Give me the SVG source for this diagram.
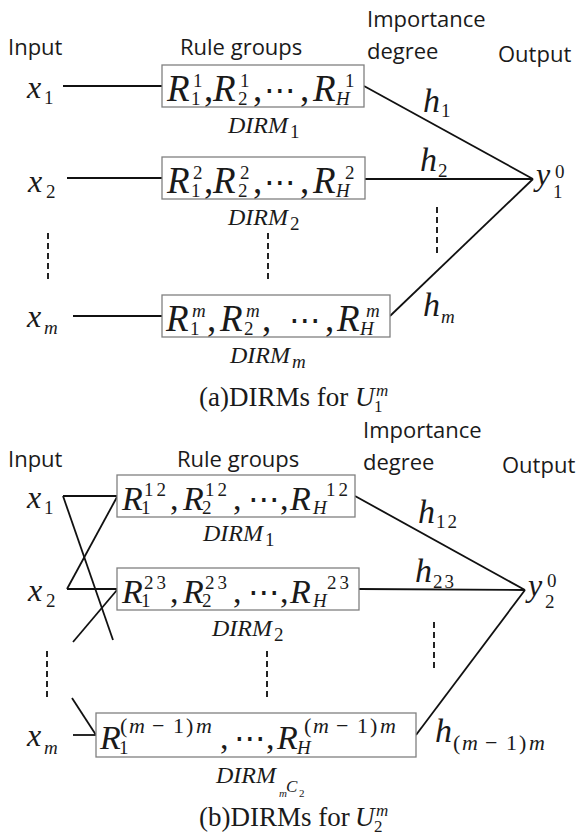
<svg xmlns="http://www.w3.org/2000/svg" width="585" height="840" viewBox="0 0 585 840">
<style>
.lbl{font-family:"Open Sans","Liberation Sans",sans-serif;font-size:22px;fill:#1a1a1a}
.m{font-family:"Liberation Serif","Times New Roman",serif;font-style:italic;fill:#1a1a1a}
.up{font-style:normal}
.R{font-size:37px}
.Rb{font-size:34px}
.s{font-size:19px}
.s2{font-size:22px}
.x{font-size:32px}
.h{font-size:34px}
.d{font-size:24px}
.dots{font-family:"DejaVu Sans",sans-serif;font-style:normal;font-size:32px}
.cap{font-family:"Liberation Serif","Times New Roman",serif;font-size:27px;fill:#1a1a1a}
.box{fill:#fff;stroke:#808080;stroke-width:1.3}
.ln{stroke:#111;stroke-width:1.8;fill:none}
.dash{stroke:#222;stroke-width:2;stroke-dasharray:6 4}
</style>

<!-- ===== Part (a) ===== -->
<g id="headers-a">
<text class="lbl" x="8" y="55">Input</text>
<text class="lbl" x="180" y="55">Rule groups</text>
<text class="lbl" x="367" y="27">Importance</text>
<text class="lbl" x="367" y="59">degree</text>
<text class="lbl" x="498" y="62">Output</text>
</g>

<g id="connectors-a">
<line class="ln" x1="63" y1="86" x2="162" y2="86"/>
<line class="ln" x1="67" y1="178" x2="162" y2="178"/>
<line class="ln" x1="73" y1="316" x2="162" y2="316"/>
<line class="ln" x1="364" y1="86" x2="533" y2="179"/>
<line class="ln" x1="365" y1="179" x2="533" y2="179"/>
<line class="ln" x1="390" y1="316" x2="533" y2="179"/>
<line class="dash" x1="48" y1="233" x2="48" y2="282"/>
<line class="dash" x1="268" y1="233" x2="268" y2="282"/>
<line class="dash" x1="437" y1="207" x2="437" y2="255"/>
</g>

<g id="x1a"><text class="m"><tspan class="x" x="27" y="98">x</tspan><tspan class="s up" x="44" y="104">1</tspan></text></g>
<g id="x2a"><text class="m"><tspan class="x" x="28" y="192">x</tspan><tspan class="s up" x="46" y="198">2</tspan></text></g>
<g id="xma"><text class="m"><tspan class="x" x="27" y="327">x</tspan><tspan class="s" x="44" y="334">m</tspan></text></g>

<g id="dirm1a">
<rect class="box" x="162" y="65" width="202" height="42"/>
<text class="m">
<tspan class="R" x="167" y="101">R</tspan><tspan class="s up" x="193" y="87">1</tspan><tspan class="s up" x="191" y="105">1</tspan>
<tspan class="R up" x="204" y="101">,</tspan>
<tspan class="R" x="213" y="101">R</tspan><tspan class="s up" x="240" y="87">1</tspan><tspan class="s up" x="238" y="105">2</tspan>
<tspan class="R up" x="253" y="101">,</tspan>
<tspan class="dots" x="264" y="101">⋯</tspan>
<tspan class="R up" x="300" y="101">,</tspan>
<tspan class="R" x="313" y="101">R</tspan><tspan class="s up" x="345" y="87">1</tspan><tspan class="s" x="336" y="105">H</tspan>
</text>
<text class="m"><tspan class="d" x="228" y="133">DIRM</tspan><tspan class="s up" x="290" y="138">1</tspan></text>
</g>

<g id="dirm2a">
<rect class="box" x="162" y="157" width="203" height="42"/>
<text class="m">
<tspan class="R" x="167" y="193">R</tspan><tspan class="s up" x="193" y="179">2</tspan><tspan class="s up" x="191" y="197">1</tspan>
<tspan class="R up" x="204" y="193">,</tspan>
<tspan class="R" x="213" y="193">R</tspan><tspan class="s up" x="240" y="179">2</tspan><tspan class="s up" x="238" y="197">2</tspan>
<tspan class="R up" x="253" y="193">,</tspan>
<tspan class="dots" x="264" y="193">⋯</tspan>
<tspan class="R up" x="300" y="193">,</tspan>
<tspan class="R" x="313" y="193">R</tspan><tspan class="s up" x="345" y="179">2</tspan><tspan class="s" x="336" y="197">H</tspan>
</text>
<text class="m"><tspan class="d" x="228" y="225">DIRM</tspan><tspan class="s up" x="290" y="230">2</tspan></text>
</g>

<g id="dirmma">
<rect class="box" x="162" y="295" width="228" height="42"/>
<text class="m">
<tspan class="R" x="166" y="331">R</tspan><tspan class="s" x="192" y="317">m</tspan><tspan class="s up" x="190" y="335">1</tspan>
<tspan class="R up" x="207" y="331">,</tspan>
<tspan class="R" x="220" y="331">R</tspan><tspan class="s" x="246" y="317">m</tspan><tspan class="s up" x="244" y="335">2</tspan>
<tspan class="R up" x="262" y="331">,</tspan>
<tspan class="dots" x="289" y="331">⋯</tspan>
<tspan class="R up" x="325" y="331">,</tspan>
<tspan class="R" x="337" y="331">R</tspan><tspan class="s" x="366" y="317">m</tspan><tspan class="s" x="360" y="335">H</tspan>
</text>
<text class="m"><tspan class="d" x="230" y="363">DIRM</tspan><tspan class="s" x="292" y="368">m</tspan></text>
</g>

<g id="h-a">
<text class="m"><tspan class="h" x="423" y="112">h</tspan><tspan class="s up" x="441" y="117">1</tspan></text>
<text class="m"><tspan class="h" x="420" y="171">h</tspan><tspan class="s up" x="438" y="177">2</tspan></text>
<text class="m"><tspan class="h" x="423" y="316">h</tspan><tspan class="s" x="441" y="323">m</tspan></text>
</g>

<g id="y-a"><text class="m"><tspan class="x" x="536" y="185">y</tspan><tspan class="s up" x="555" y="178">0</tspan><tspan class="s up" x="553" y="198">1</tspan></text></g>

<g id="cap-a"><text class="cap"><tspan x="199" y="406">(a)DIRMs for </tspan><tspan font-style="italic" x="355" y="406">U</tspan><tspan font-size="17" font-style="italic" x="376" y="396">m</tspan><tspan font-size="17" x="374" y="412">1</tspan></text></g>

<!-- ===== Part (b) ===== -->
<g id="headers-b">
<text class="lbl" x="8" y="467">Input</text>
<text class="lbl" x="177" y="467">Rule groups</text>
<text class="lbl" x="363" y="438">Importance</text>
<text class="lbl" x="363" y="470">degree</text>
<text class="lbl" x="502" y="473">Output</text>
</g>

<g id="connectors-b">
<line class="ln" x1="63" y1="496" x2="117" y2="496"/>
<line class="ln" x1="63" y1="496" x2="113" y2="640"/>
<line class="ln" x1="117" y1="497" x2="67" y2="589"/>
<line class="ln" x1="67" y1="589" x2="117" y2="589"/>
<line class="ln" x1="117" y1="590" x2="73" y2="642"/>
<line class="ln" x1="72" y1="698" x2="96" y2="735"/>
<line class="ln" x1="73" y1="735" x2="96" y2="735"/>
<line class="ln" x1="355" y1="496" x2="525" y2="590"/>
<line class="ln" x1="359" y1="589" x2="525" y2="590"/>
<line class="ln" x1="416" y1="735" x2="525" y2="590"/>
<line class="dash" x1="47" y1="651" x2="47" y2="700"/>
<line class="dash" x1="267" y1="651" x2="267" y2="700"/>
<line class="dash" x1="434" y1="622" x2="434" y2="671"/>
</g>

<g id="x1b"><text class="m"><tspan class="x" x="27" y="508">x</tspan><tspan class="s up" x="44" y="514">1</tspan></text></g>
<g id="x2b"><text class="m"><tspan class="x" x="28" y="601">x</tspan><tspan class="s up" x="46" y="607">2</tspan></text></g>
<g id="xmb"><text class="m"><tspan class="x" x="27" y="746">x</tspan><tspan class="s" x="44" y="754">m</tspan></text></g>

<g id="dirm1b">
<rect class="box" x="117" y="475" width="238" height="42"/>
<text class="m">
<tspan class="Rb" x="122" y="510">R</tspan><tspan class="s up" x="144" y="496" letter-spacing="3">12</tspan><tspan class="s up" x="141" y="514">1</tspan>
<tspan class="Rb up" x="170" y="510">,</tspan>
<tspan class="Rb" x="183" y="510">R</tspan><tspan class="s up" x="205" y="496" letter-spacing="3">12</tspan><tspan class="s up" x="202" y="514">2</tspan>
<tspan class="Rb up" x="233" y="510">,</tspan>
<tspan class="dots" x="248" y="510">⋯</tspan>
<tspan class="Rb up" x="280" y="510">,</tspan>
<tspan class="Rb" x="290" y="510">R</tspan><tspan class="s up" x="326" y="496" letter-spacing="3">12</tspan><tspan class="s" x="313" y="514">H</tspan>
</text>
<text class="m"><tspan class="d" x="203" y="541">DIRM</tspan><tspan class="s up" x="265" y="546">1</tspan></text>
</g>

<g id="dirm2b">
<rect class="box" x="117" y="568" width="242" height="42"/>
<text class="m">
<tspan class="Rb" x="122" y="603">R</tspan><tspan class="s up" x="144" y="589" letter-spacing="3">23</tspan><tspan class="s up" x="141" y="607">1</tspan>
<tspan class="Rb up" x="170" y="603">,</tspan>
<tspan class="Rb" x="183" y="603">R</tspan><tspan class="s up" x="205" y="589" letter-spacing="3">23</tspan><tspan class="s up" x="202" y="607">2</tspan>
<tspan class="Rb up" x="233" y="603">,</tspan>
<tspan class="dots" x="248" y="603">⋯</tspan>
<tspan class="Rb up" x="280" y="603">,</tspan>
<tspan class="Rb" x="290" y="603">R</tspan><tspan class="s up" x="327" y="589" letter-spacing="3">23</tspan><tspan class="s" x="313" y="607">H</tspan>
</text>
<text class="m"><tspan class="d" x="212" y="636">DIRM</tspan><tspan class="s up" x="274" y="641">2</tspan></text>
</g>

<g id="dirmmb">
<rect class="box" x="96" y="713" width="320" height="44"/>
<text class="m">
<tspan class="Rb" x="100" y="749">R</tspan><tspan class="s up" x="119" y="754">1</tspan>
<tspan class="Rb up" x="220" y="749">,</tspan>
<tspan class="dots" x="234" y="749">⋯</tspan>
<tspan class="Rb up" x="266" y="749">,</tspan>
<tspan class="Rb" x="277" y="749">R</tspan><tspan class="s" x="297" y="754">H</tspan>
</text>
<text class="m s2"><tspan class="up" x="120" y="733">(</tspan><tspan x="129" y="733">m</tspan><tspan class="up" x="152" y="733">−</tspan><tspan class="up" x="173" y="733">1</tspan><tspan class="up" x="186" y="733">)</tspan><tspan x="196" y="733">m</tspan></text>
<text class="m s2"><tspan class="up" x="304" y="733">(</tspan><tspan x="313" y="733">m</tspan><tspan class="up" x="336" y="733">−</tspan><tspan class="up" x="357" y="733">1</tspan><tspan class="up" x="370" y="733">)</tspan><tspan x="380" y="733">m</tspan></text>
<text class="m"><tspan class="d" x="216" y="783">DIRM</tspan><tspan font-size="11" x="279" y="797">m</tspan><tspan font-size="17" x="286" y="792">C</tspan><tspan class="up" font-size="11" x="299" y="797">2</tspan></text>
</g>

<g id="h-b">
<text class="m"><tspan class="h" x="418" y="523">h</tspan><tspan class="s up" x="436" y="528" letter-spacing="2">12</tspan></text>
<text class="m"><tspan class="h" x="415" y="582">h</tspan><tspan class="s up" x="433" y="588" letter-spacing="2">23</tspan></text>
<text class="m"><tspan class="h" x="435" y="742">h</tspan></text>
<text class="m s2"><tspan class="up" x="453" y="750">(</tspan><tspan x="462" y="750">m</tspan><tspan class="up" x="485" y="750">−</tspan><tspan class="up" x="506" y="750">1</tspan><tspan class="up" x="519" y="750">)</tspan><tspan x="529" y="750">m</tspan></text>
</g>

<g id="y-b"><text class="m"><tspan class="x" x="528" y="596">y</tspan><tspan class="s up" x="547" y="587">0</tspan><tspan class="s up" x="545" y="608">2</tspan></text></g>

<g id="cap-b"><text class="cap"><tspan x="199" y="826">(b)DIRMs for </tspan><tspan font-style="italic" x="355" y="826">U</tspan><tspan font-size="17" font-style="italic" x="376" y="816">m</tspan><tspan font-size="17" x="374" y="832">2</tspan></text></g>
</svg>
